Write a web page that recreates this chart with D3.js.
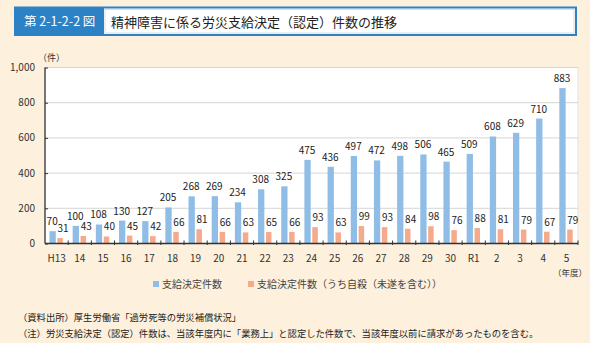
<!DOCTYPE html>
<html><head><meta charset="utf-8">
<script src="https://cdn.jsdelivr.net/npm/d3@7"></script>
<style>
html,body{margin:0;padding:0;background:#fdf0dc;}
svg{display:block;font-family:"Noto Sans CJK JP","Noto Sans",sans-serif;}
</style></head>
<body><svg id="c" width="590" height="343"></svg>
<script>
const categories = ["H13","14","15","16","17","18","19","20","21","22","23","24","25","26","27","28","29","30","R1","2","3","4","5"];
const totalDecisions = [70,100,108,130,127,205,268,269,234,308,325,475,436,497,472,498,506,465,509,608,629,710,883];
const suicideDecisions = [31,43,40,45,42,66,81,66,63,65,66,93,63,99,93,84,98,76,88,81,79,67,79];
const yTicks = [0,200,400,600,800,1000];
const seriesNames = ["支給決定件数","支給決定件数（うち自殺（未遂を含む））"];
const figLabel = "第 2-1-2-2 図";
const title = "精神障害に係る労災支給決定（認定）件数の推移";
const notes = ["（資料出所）厚生労働省「過労死等の労災補償状況」",
 "（注）労災支給決定（認定）件数は、当該年度内に「業務上」と認定した件数で、当該年度以前に請求があったものを含む。"];

const blue = "#8fbde6", orange = "#f5aa8b";
const svg = d3.select("#c");

// title bar
svg.append("rect").attr("x",15).attr("y",7.5).attr("width",561).attr("height",27.5)
  .attr("fill","#fff").attr("stroke","#2d82c6").attr("stroke-width",2);
svg.append("rect").attr("x",15).attr("y",7.5).attr("width",89).attr("height",27.5).attr("fill","#2d82c6");
svg.append("rect").attr("x",105).attr("y",9.5).attr("width",469).attr("height",23.5)
  .attr("fill","none").attr("stroke","#d6dde6").attr("stroke-width",1);
svg.append("text").attr("x",24).attr("y",26).attr("fill","#fff").attr("font-size",12.5).text(figLabel);
svg.append("text").attr("x",111).attr("y",26.5).attr("fill","#222").attr("font-size",13).text(title);

const L=45, R=578, T=67.5, B=243.5;
const x = d3.scaleBand().domain(categories).range([L,R]);
const y = d3.scaleLinear().domain([0,1000]).range([B,T]);

svg.append("rect").attr("x",L).attr("y",T).attr("width",R-L).attr("height",B-T).attr("fill","#fff")
  .attr("stroke","#e2e2e2").attr("stroke-width",1);

// grid
const g = svg.append("g");
g.selectAll("line.grid").data(yTicks.filter(d=>d>0)).join("line")
  .attr("x1",L).attr("x2",R).attr("y1",d=>y(d)).attr("y2",d=>y(d))
  .attr("stroke","#d6d6d6").attr("stroke-width",1);

// y axis
const yAxis = d3.axisRight(y).tickValues(yTicks).tickSize(3).tickFormat("");
const ya = svg.append("g").attr("transform",`translate(${L},0)`).call(yAxis);
ya.select(".domain").attr("stroke","#333").attr("stroke-width",1.3).attr("d",`M0,${T}V${B}`);
ya.selectAll(".tick line").attr("stroke","#333");
svg.append("g").selectAll("text").data(yTicks).join("text")
  .attr("x",35).attr("y",d=>y(d)+3.5).attr("text-anchor","end").attr("font-size",10).attr("fill","#333")
  .text(d=>d3.format(",")(d));
svg.append("text").attr("x",38).attr("y",61).attr("font-size",9).attr("fill","#333").text("（件）");

// bars
const bw = 6.3, gap = 1.6;
const bxBlue = c => x(c) + x.bandwidth()/2 - gap/2 - bw;
const bxOr = c => x(c) + x.bandwidth()/2 + gap/2;
svg.append("g").selectAll("rect").data(categories).join("rect")
  .attr("x",c=>bxBlue(c)).attr("width",bw)
  .attr("y",(c,i)=>y(totalDecisions[i])).attr("height",(c,i)=>B-y(totalDecisions[i])).attr("fill",blue);
svg.append("g").selectAll("rect").data(categories).join("rect")
  .attr("x",c=>bxOr(c)).attr("width",bw-0.8)
  .attr("y",(c,i)=>y(suicideDecisions[i])).attr("height",(c,i)=>B-y(suicideDecisions[i])).attr("fill",orange);

// labels
svg.append("g").selectAll("text").data(categories).join("text")
  .attr("x",c=>bxBlue(c)+bw/2-0.5).attr("y",(c,i)=>y(totalDecisions[i])-6)
  .attr("text-anchor","middle").attr("font-size",10).attr("fill","#222")
  .text((c,i)=>totalDecisions[i]);
svg.append("g").selectAll("text").data(categories).join("text")
  .attr("x",c=>bxOr(c)+bw/2+2.5).attr("y",(c,i)=>y(suicideDecisions[i])-6)
  .attr("text-anchor","middle").attr("font-size",10).attr("fill","#222")
  .text((c,i)=>suicideDecisions[i]);

// x axis
const xa = svg.append("g").attr("transform",`translate(0,${B})`);
xa.append("line").attr("x1",L).attr("x2",R).attr("stroke","#333").attr("stroke-width",1.3);
xa.selectAll("line.t").data(categories).join("line").attr("class","t")
  .attr("x1",c=>x(c)+x.bandwidth()).attr("x2",c=>x(c)+x.bandwidth()).attr("y1",-3).attr("y2",1.5)
  .attr("stroke","#333");
xa.selectAll("text").data(categories).join("text")
  .attr("x",c=>x(c)+x.bandwidth()/2).attr("y",18.5).attr("text-anchor","middle")
  .attr("font-size",10).attr("fill","#333").text(c=>c);
svg.append("text").attr("x",570).attr("y",275.5).attr("text-anchor","middle").attr("font-size",8.5).attr("fill","#333").text("（年度）");

// legend
const lg = svg.append("g");
const legendX = [153, 248];
[blue,orange].forEach((col,i)=>{
  lg.append("rect").attr("x",legendX[i]).attr("y",281).attr("width",6).attr("height",6).attr("fill",col);
  lg.append("text").attr("x",legendX[i]+9).attr("y",288).attr("font-size",10).attr("fill","#444").text(seriesNames[i]);
});

// notes
svg.append("g").selectAll("text").data(notes).join("text")
  .attr("x",18).attr("y",(d,i)=>321+i*16).attr("font-size",9.3).attr("fill","#222").text(d=>d);
</script></body></html>
